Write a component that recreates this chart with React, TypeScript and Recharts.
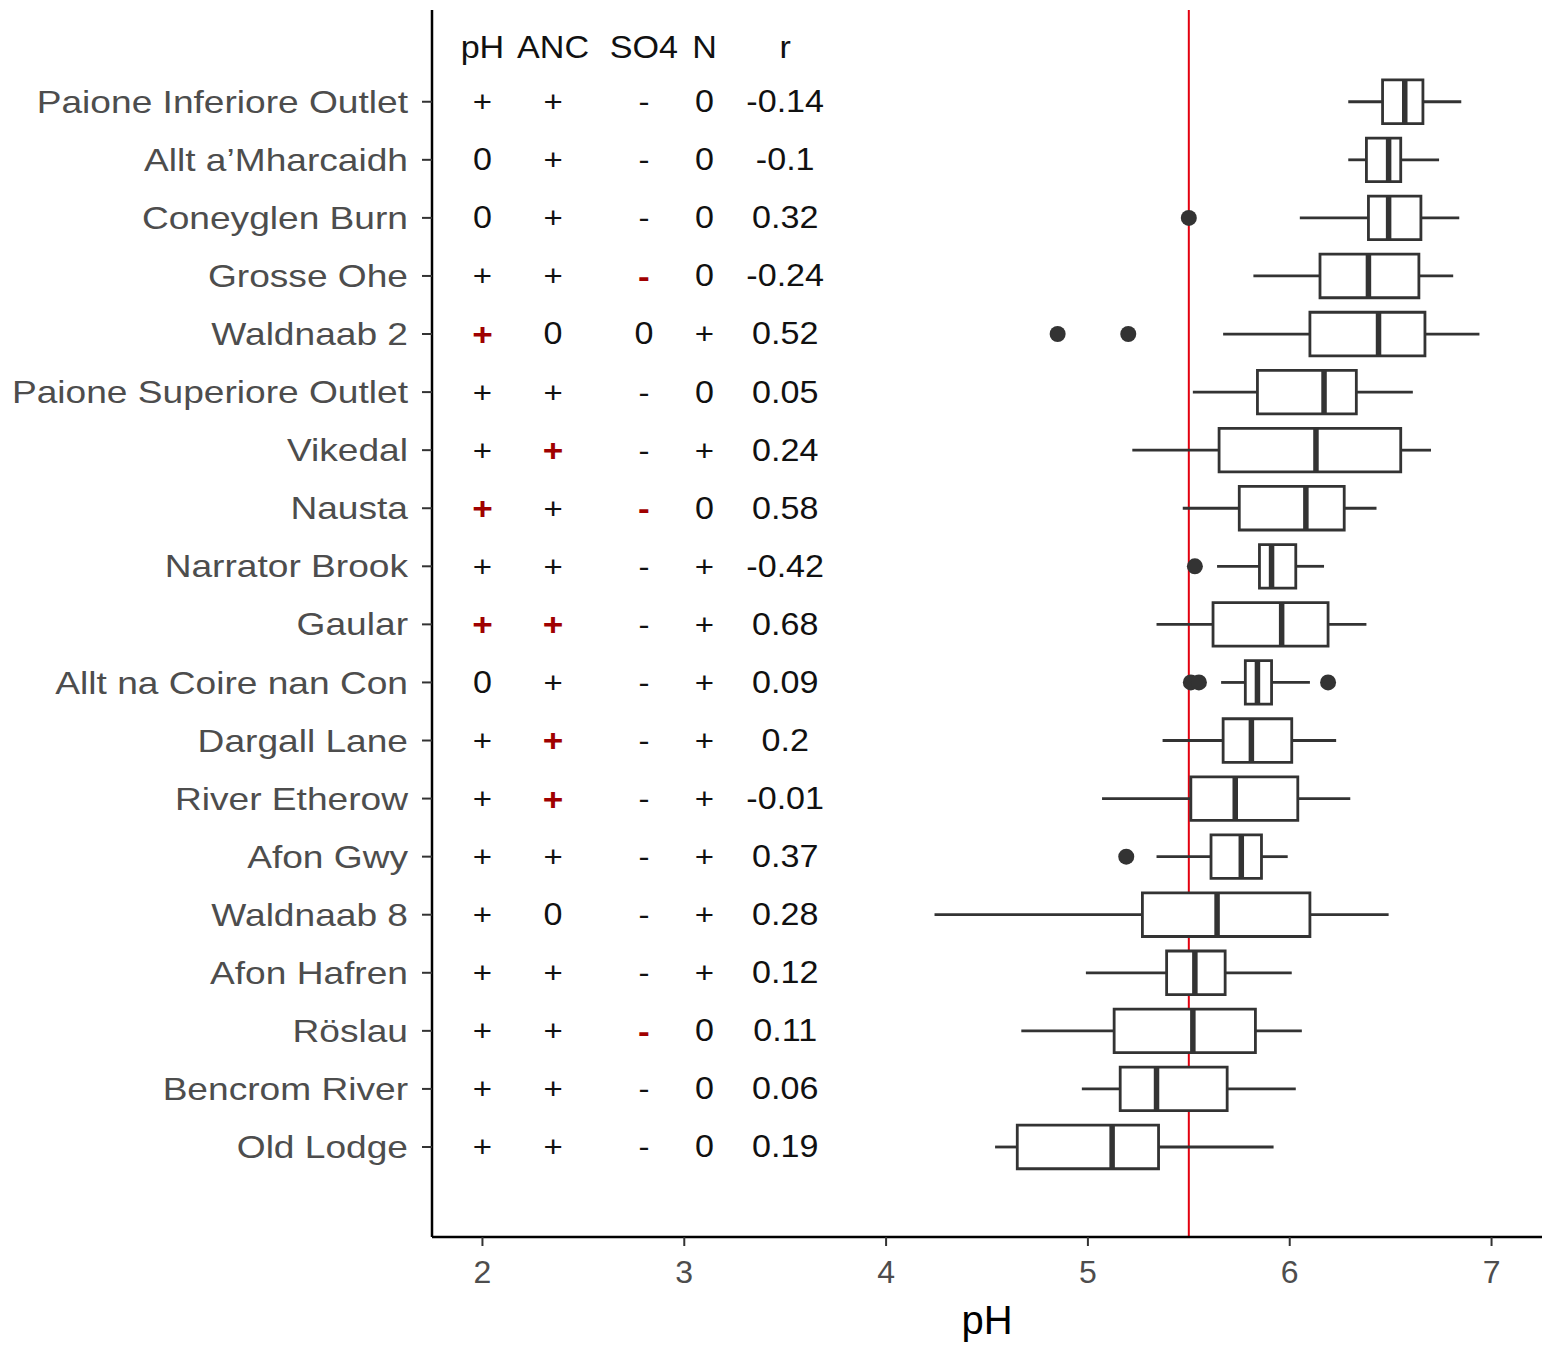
import React from "react";
import {
  ComposedChart,
  XAxis,
  YAxis,
  Scatter,
  ReferenceArea,
  ReferenceLine,
  Label,
} from "recharts";

// sites, top to bottom
const SITES = [
  "Paione Inferiore Outlet",
  "Allt a’Mharcaidh",
  "Coneyglen Burn",
  "Grosse Ohe",
  "Waldnaab 2",
  "Paione Superiore Outlet",
  "Vikedal",
  "Nausta",
  "Narrator Brook",
  "Gaular",
  "Allt na Coire nan Con",
  "Dargall Lane",
  "River Etherow",
  "Afon Gwy",
  "Waldnaab 8",
  "Afon Hafren",
  "Röslau",
  "Bencrom River",
  "Old Lodge",
];

// box statistics (pH)
const LOWER = [6.29, 6.29, 6.05, 5.82, 5.67, 5.52, 5.22, 5.47, 5.64, 5.34, 5.66, 5.37, 5.07, 5.34, 4.24, 4.99, 4.67, 4.97, 4.54];
const Q1 = [6.46, 6.38, 6.39, 6.15, 6.1, 5.84, 5.65, 5.75, 5.85, 5.62, 5.78, 5.67, 5.51, 5.61, 5.27, 5.39, 5.13, 5.16, 4.65];
const MEDIAN = [6.57, 6.49, 6.49, 6.39, 6.44, 6.17, 6.13, 6.08, 5.91, 5.96, 5.84, 5.81, 5.73, 5.76, 5.64, 5.53, 5.52, 5.34, 5.12];
const Q3 = [6.66, 6.55, 6.65, 6.64, 6.67, 6.33, 6.55, 6.27, 6.03, 6.19, 5.91, 6.01, 6.04, 5.86, 6.1, 5.68, 5.83, 5.69, 5.35];
const UPPER = [6.85, 6.74, 6.84, 6.81, 6.94, 6.61, 6.7, 6.43, 6.17, 6.38, 6.1, 6.23, 6.3, 5.99, 6.49, 6.01, 6.06, 6.03, 5.92];

const OUTLIER_SITES = [
  "Coneyglen Burn",
  "Waldnaab 2",
  "Waldnaab 2",
  "Narrator Brook",
  "Allt na Coire nan Con",
  "Allt na Coire nan Con",
  "Allt na Coire nan Con",
  "Afon Gwy",
];
const OUTLIER_VALUES = [5.5, 4.85, 5.2, 5.53, 5.51, 5.55, 6.19, 5.19];

// trend table
const HEADERS = ["pH", "ANC", "SO4", "N", "r"];
const COLUMN_X = [2, 2.35, 2.8, 3.1, 3.5];
const PH_TREND = ["+", "0", "0", "+", "+", "+", "+", "+", "+", "+", "0", "+", "+", "+", "+", "+", "+", "+", "+"];
const ANC_TREND = ["+", "+", "+", "+", "0", "+", "+", "+", "+", "+", "+", "+", "+", "+", "0", "+", "+", "+", "+"];
const SO4_TREND = ["-", "-", "-", "-", "0", "-", "-", "-", "-", "-", "-", "-", "-", "-", "-", "-", "-", "-", "-"];
const N_TREND = ["0", "0", "0", "0", "+", "0", "+", "0", "+", "+", "+", "+", "+", "+", "+", "+", "0", "0", "0"];
const R_VALUES = ["-0.14", "-0.1", "0.32", "-0.24", "0.52", "0.05", "0.24", "0.58", "-0.42", "0.68", "0.09", "0.2", "-0.01", "0.37", "0.28", "0.12", "0.11", "0.06", "0.19"];
const PH_SIGNIFICANT = ["Waldnaab 2", "Nausta", "Gaular"];
const ANC_SIGNIFICANT = ["Vikedal", "Gaular", "Dargall Lane", "River Etherow"];
const SO4_SIGNIFICANT = ["Grosse Ohe", "Nausta", "Röslau"];

const X_TICKS = [2, 3, 4, 5, 6, 7];
const THRESHOLD = 5.5;

const FONT = "'Liberation Sans', Arial, sans-serif";
const STRETCH = 1.1;
const N = SITES.length;
const rowOf = (i: number) => N - i;
const HEADER_ROW = N + 1;

const rows = SITES.map((_, i) => rowOf(i));
const outliers = OUTLIER_SITES.map((s, k) => ({
  x: OUTLIER_VALUES[k],
  y: rowOf(SITES.indexOf(s)),
}));

const columns = [PH_TREND, ANC_TREND, SO4_TREND, N_TREND, R_VALUES];
const significant = [PH_SIGNIFICANT, ANC_SIGNIFICANT, SO4_SIGNIFICANT, [], []];

const tableCells = [
  ...HEADERS.map((h, c) => ({ x: COLUMN_X[c], y: HEADER_ROW, text: h, kind: "header", red: false })),
  ...SITES.flatMap((site, i) =>
    columns.map((col, c) => ({
      x: COLUMN_X[c],
      y: rowOf(i),
      text: col[i],
      kind: c === 4 ? "value" : "sign",
      red: significant[c].includes(site),
    }))
  ),
];

function SiteTick(props: any) {
  const { x, y, payload } = props;
  const name = SITES[N - payload.value];
  return (
    <text
      x={0}
      y={0}
      transform={`translate(${x},${y}) scale(1.16,1)`}
      textAnchor="end"
      dominantBaseline="central"
      fill="#4d4d4d"
      fontSize={32}
      fontFamily={FONT}
    >
      {name}
    </text>
  );
}

function TableText(props: any) {
  const { cx, cy, payload } = props;
  const isSign = payload.kind === "sign";
  const isHeader = payload.kind === "header";
  return (
    <text
      x={0}
      y={0}
      transform={`translate(${cx},${cy + (isHeader ? 4 : 0)}) scale(${STRETCH},1)`}
      textAnchor="middle"
      dominantBaseline="central"
      fill={payload.red ? "#a00000" : "#111"}
      fontWeight={payload.red ? "bold" : "normal"}
      fontSize={isSign && payload.text !== "0" ? (payload.red ? 32 : 30) : 31}
      fontFamily={FONT}
    >
      {payload.text}
    </text>
  );
}

export default function App() {
  return (
    <div style={{ position: "absolute", left: 0, top: 0, background: "#fff" }}>
      <style>{"body{margin:0}"}</style>
      <ComposedChart
        width={1544}
        height={1346}
        margin={{ top: 10, right: 2, bottom: 0, left: 0 }}
      >
        <XAxis
          type="number"
          dataKey="x"
          domain={[1.75, 7.25]}
          ticks={X_TICKS}
          allowDataOverflow
          height={109}
          tickSize={9}
          tickMargin={14}
          axisLine={{ stroke: "#000", strokeWidth: 2.5 }}
          tickLine={{ stroke: "#333", strokeWidth: 2 }}
          tick={{ fill: "#4d4d4d", fontSize: 32, fontFamily: FONT }}
        >
          <Label
            value="pH"
            position="insideBottom"
            offset={12}
            fontSize={40}
            fill="#000"
            fontFamily={FONT}
          />
        </XAxis>
        <YAxis
          type="number"
          dataKey="y"
          domain={[-0.55, 20.58]}
          ticks={rows}
          interval={0}
          allowDataOverflow
          width={432}
          tickSize={10}
          tickMargin={14}
          axisLine={{ stroke: "#000", strokeWidth: 2.5 }}
          tickLine={{ stroke: "#333", strokeWidth: 2 }}
          tick={(p: any) => <SiteTick {...p} />}
        />

        <ReferenceLine x={THRESHOLD} stroke="#e3000f" strokeWidth={2} zIndex={40} />

        {SITES.map((site, i) => (
          <ReferenceLine
            key={`wl-${site}`}
            segment={[
              { x: LOWER[i], y: rowOf(i) },
              { x: Q1[i], y: rowOf(i) },
            ]}
            stroke="#333"
            strokeWidth={2.8}
            zIndex={50}
          />
        ))}
        {SITES.map((site, i) => (
          <ReferenceLine
            key={`wu-${site}`}
            segment={[
              { x: Q3[i], y: rowOf(i) },
              { x: UPPER[i], y: rowOf(i) },
            ]}
            stroke="#333"
            strokeWidth={2.8}
            zIndex={50}
          />
        ))}
        {SITES.map((site, i) => (
          <ReferenceArea
            key={`box-${site}`}
            x1={Q1[i]}
            x2={Q3[i]}
            y1={rowOf(i) - 0.375}
            y2={rowOf(i) + 0.375}
            fill="#fff"
            fillOpacity={1}
            stroke="#333"
            strokeWidth={2.8}
            zIndex={60}
          />
        ))}
        {SITES.map((site, i) => (
          <ReferenceLine
            key={`med-${site}`}
            segment={[
              { x: MEDIAN[i], y: rowOf(i) - 0.375 },
              { x: MEDIAN[i], y: rowOf(i) + 0.375 },
            ]}
            stroke="#333"
            strokeWidth={5.5}
            zIndex={70}
          />
        ))}

        <Scatter
          data={outliers}
          fill="#333"
          isAnimationActive={false}
          shape={(p: any) => <circle cx={p.cx} cy={p.cy} r={8} fill="#333" />}
        />
        <Scatter
          data={tableCells}
          isAnimationActive={false}
          shape={(p: any) => <TableText {...p} />}
        />
      </ComposedChart>
    </div>
  );
}
